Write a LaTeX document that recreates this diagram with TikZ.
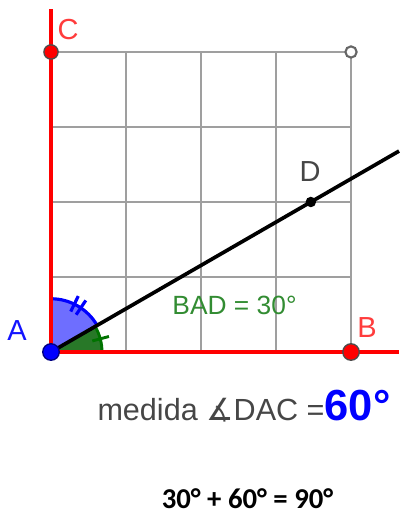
\documentclass[tikz,border=0pt]{standalone}
\usepackage{fontspec}
\setmainfont{Liberation Sans}
\newfontfamily\symfont{DejaVu Sans}
\newfontfamily\sumfont{Carlito}
\usepackage{xcolor}
\definecolor{ptblue}{RGB}{20,20,255}
\definecolor{labred}{RGB}{255,60,60}
\definecolor{angblue}{RGB}{110,110,255}
\definecolor{anggreen}{RGB}{40,120,40}
\definecolor{txtgreen}{RGB}{50,140,50}
\definecolor{txtgray}{RGB}{70,70,70}

\begin{document}
\begin{tikzpicture}[x=1cm,y=1cm]
\useasboundingbox (-0.68,-2.173) rectangle (4.64,4.693);
% square grid
\draw[gray!75,line width=0.6pt] (0,0) grid (4,4);
\coordinate (A) at (0,0);
\coordinate (B) at (4,0);
\coordinate (C) at (0,4);
\coordinate (Q) at (4,4);
\coordinate (D) at (30:4);
\coordinate (Cend) at (0,4.57);
\coordinate (Bend) at (4.64,0);
\coordinate (Dend) at (30:5.358);
% angle sectors
\fill[angblue] (A) -- (30:0.71) arc (30:90:0.71) -- cycle;
\draw[blue,line width=1.2pt] (30:0.71) arc (30:90:0.71);
\foreach \a in {56,64} {
  \draw[blue,line width=1.2pt] (\a:0.6) -- (\a:0.83);
}
\fill[anggreen] (A) -- (0:0.68) arc (0:30:0.68) -- cycle;
\draw[green!45!black,line width=1.1pt] (0:0.68) arc (0:30:0.68);
\draw[green!45!black,line width=1.1pt] (15:0.57) -- (15:0.8);
% axes and ray
\draw[red,line width=1.4pt] (Cend) -- (A) -- (Bend);
\draw[black,line width=1.4pt] (A) -- (Dend);
% points
\node[circle,draw=gray!80!black,fill=white,line width=0.8pt,inner sep=0,minimum size=0.15cm] (ptQ) at (Q) {};
\node[circle,draw=black!70,fill=red,line width=0.5pt,inner sep=0,minimum size=0.19cm] (ptC) at (C) {};
\node[circle,draw=black!70,fill=red,line width=0.5pt,inner sep=0,minimum size=0.22cm] (ptB) at (B) {};
\node[circle,fill=black,inner sep=0,minimum size=0.14cm] (ptD) at (D) {};
\node[circle,draw=blue!50!black,fill=blue,line width=0.5pt,inner sep=0,minimum size=0.22cm] (ptA) at (A) {};
% labels
\node[ptblue,font=\fontsize{11}{11}\selectfont] (labA) at (-0.453,0.293) {A};
\node[labred,font=\fontsize{11}{11}\selectfont] (labC) at (0.227,4.293) {C};
\node[labred,font=\fontsize{11}{11}\selectfont] (labB) at (4.213,0.333) {B};
\node[txtgray,font=\fontsize{11}{11}\selectfont] (labD) at (3.453,2.4) {D};
\node[txtgreen,font=\fontsize{10}{10}\selectfont] (angBAD) at (2.447,0.627) {BAD = 30°};
\node[anchor=base west,inner sep=0,txtgray,font=\fontsize{11.6}{11.6}\selectfont] (measure) at (0.613,-0.907)
  {medida {\symfont ∡}DAC =\textcolor{blue}{\bfseries\fontsize{16.5}{16.5}\selectfont 60°}};
\node[anchor=base,inner sep=0,font=\sumfont\bfseries\fontsize{10.9}{10.9}\selectfont] (total) at (2.62,-2.08) {30° + 60° = 90°};
\end{tikzpicture}
\end{document}
